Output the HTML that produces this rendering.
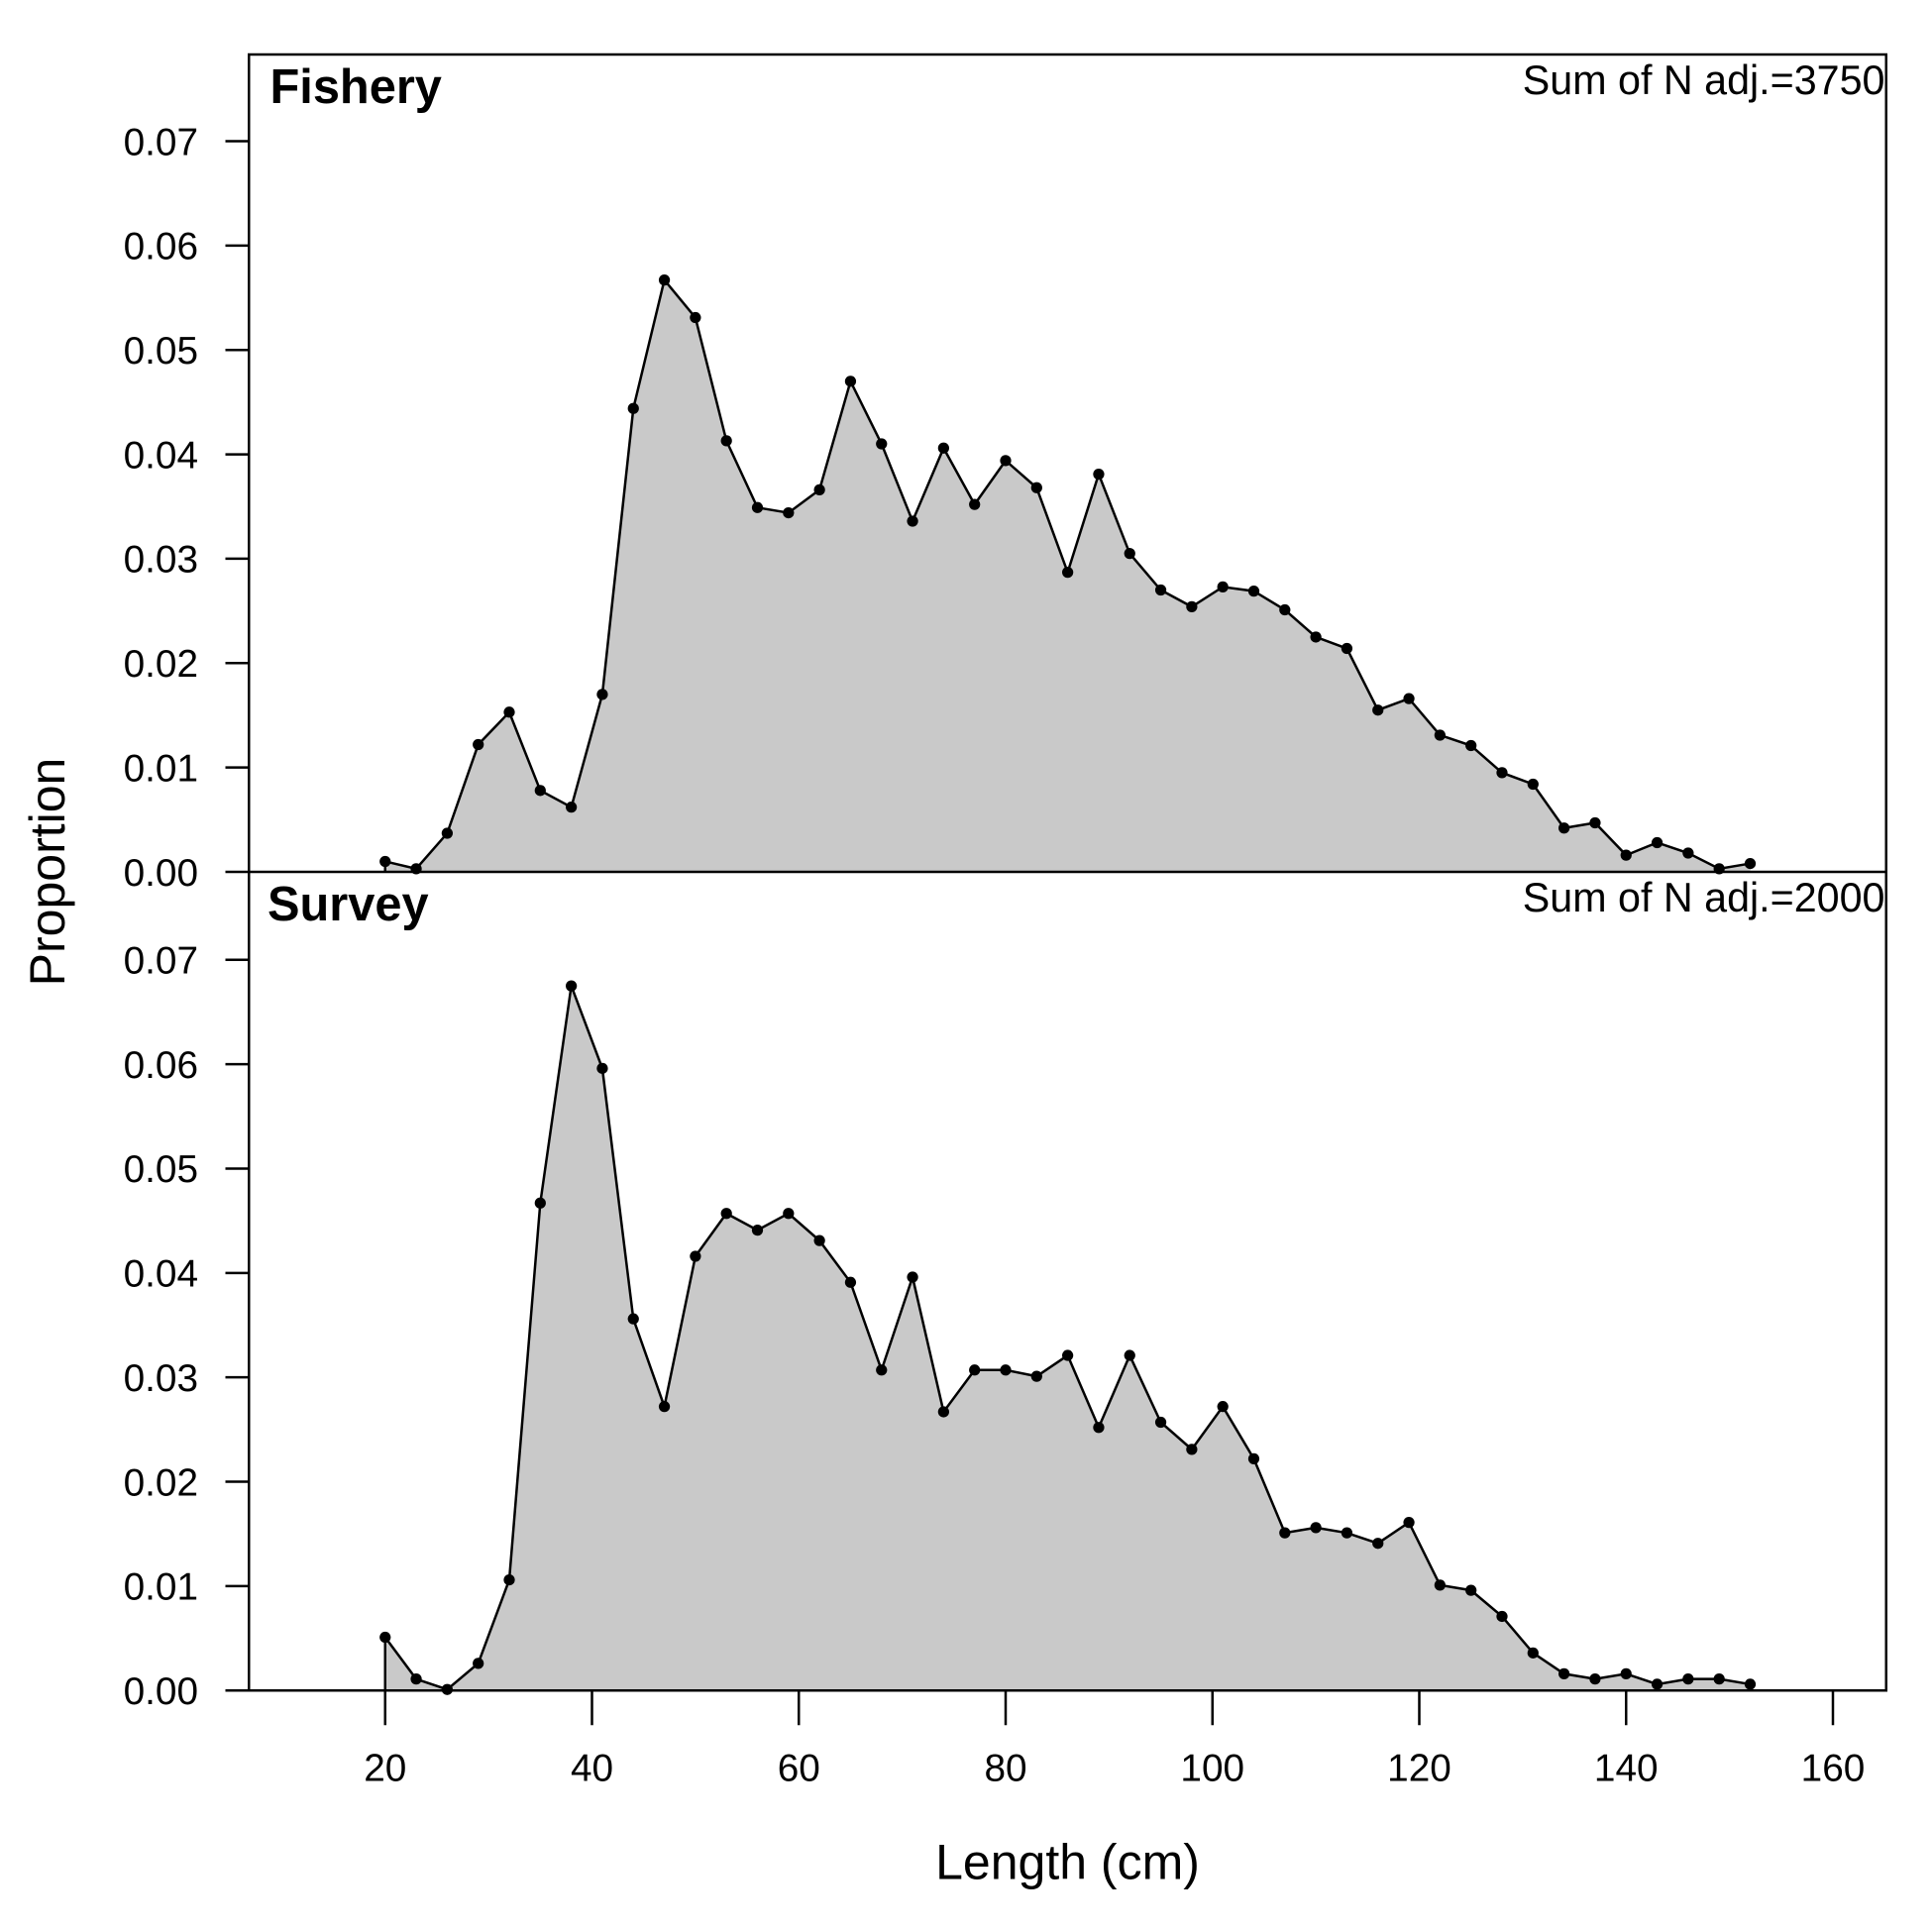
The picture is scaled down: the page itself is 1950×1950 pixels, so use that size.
<!DOCTYPE html>
<html><head><meta charset="utf-8"><style>html,body{margin:0;padding:0;background:#fff}svg{display:block}text{font-family:"Liberation Sans",Arial,sans-serif}</style></head>
<body>
<svg id="chart" width="1950" height="1950" viewBox="0 0 1560 1560" xmlns="http://www.w3.org/2000/svg"></svg>
<script>
const lengths = [20,23,26,29,32,35,38,41,44,47,50,53,56,59,62,65,68,71,74,77,80,83,86,89,92,95,98,101,104,107,110,113,116,119,122,125,128,131,134,137,140,143,146,149,152];
const fisheryValues = [0.001,0.0003,0.0037,0.0122,0.0153,0.0078,0.0062,0.017,0.0444,0.0567,0.0531,0.0413,0.0349,0.0344,0.0366,0.047,0.041,0.0336,0.0406,0.0352,0.0394,0.0368,0.0287,0.0381,0.0305,0.027,0.0254,0.0273,0.0269,0.0251,0.0225,0.0214,0.0155,0.0166,0.0131,0.0121,0.0095,0.0084,0.0042,0.0047,0.0016,0.0028,0.0018,0.0003,0.0008];
const surveyValues = [0.0051,0.0011,0.0001,0.0026,0.0106,0.0467,0.0675,0.0596,0.0356,0.0272,0.0416,0.0457,0.0441,0.0457,0.0431,0.0391,0.0307,0.0396,0.0267,0.0307,0.0307,0.0301,0.0321,0.0252,0.0321,0.0257,0.0231,0.0272,0.0222,0.0151,0.0156,0.0151,0.0141,0.0161,0.0101,0.0096,0.0071,0.0036,0.0016,0.0011,0.0016,0.0006,0.0011,0.0011,0.0006];
const xTicks = [20,40,60,80,100,120,140,160];
const yTicks = [0,0.01,0.02,0.03,0.04,0.05,0.06,0.07];
const panelTitles = ["Fishery","Survey"];
const sumLabels = ["Sum of N adj.=3750","Sum of N adj.=2000"];

const NS="http://www.w3.org/2000/svg";
const svg=document.getElementById('chart');
function el(tag,attrs,parent){const e=document.createElementNS(NS,tag);for(const k in attrs)e.setAttribute(k,attrs[k]);(parent||svg).appendChild(e);return e;}
const L=201,R=1523;
const xScale=v=>311+(v-20)*(1480-311)/140;
const panels=[{top:44,base:704,vals:fisheryValues},{top:704,base:1365,vals:surveyValues}];
const yPer=(704-114)/0.07;

panels.forEach((p,i)=>{
  const g=el('g',{});
  
  
  const y=v=>p.base-v*yPer;
  let d='M'+xScale(lengths[0])+','+p.base;
  lengths.forEach((x,j)=>{d+=' L'+xScale(x)+','+y(p.vals[j]);});
  d+=' L'+xScale(lengths[lengths.length-1])+','+p.base+' Z';
  const area=el('path',{d:d,fill:'#c9c9c9',stroke:'none'},g);
  
  
  const pts=lengths.map((x,j)=>xScale(x)+','+y(p.vals[j])).join(' ');
  const line=el('polyline',{points:pts,fill:'none',stroke:'#000','stroke-width':2},g);
  
  
  el('line',{x1:xScale(20),y1:p.base,x2:xScale(20),y2:y(p.vals[0]),stroke:'#000','stroke-width':2},g);
  lengths.forEach((x,j)=>{
    const c=el('circle',{cx:xScale(x),cy:y(p.vals[j]),r:4.5,fill:'#000'},g);
    
    
  });
  yTicks.forEach(t=>{
    el('line',{x1:L-19,x2:L,y1:y(t),y2:y(t),stroke:'#000','stroke-width':2},g);
    const tx=el('text',{x:160,y:y(t)+11,'font-size':31,'text-anchor':'end'},g);
    tx.textContent=t.toFixed(2);
    
    
  });
  el('line',{x1:L,x2:L,y1:y(0),y2:y(0.07),stroke:'#000','stroke-width':2},g);
  const tt=el('text',{x:i===0?218:216,y:p.top+39,'font-size':39,'font-weight':'bold'},g);
  tt.textContent=panelTitles[i];
  
  
  const st=el('text',{x:R-1,y:p.top+32,'font-size':33,'text-anchor':'end'},g);
  st.textContent=sumLabels[i];
  
  
});
const frame=el('rect',{x:L,y:44,width:R-L,height:1365-44,fill:'none',stroke:'#000','stroke-width':2});


el('line',{x1:L,x2:R,y1:704,y2:704,stroke:'#000','stroke-width':2});
el('line',{x1:182,x2:xScale(xTicks[xTicks.length-1]),y1:1365,y2:1365,stroke:'#000','stroke-width':2});
xTicks.forEach(t=>{
  el('line',{x1:xScale(t),x2:xScale(t),y1:1365,y2:1393,stroke:'#000','stroke-width':2});
  const tx=el('text',{x:xScale(t),y:1438,'font-size':31,'text-anchor':'middle'});
  tx.textContent=t;
  
  
});
const xl=el('text',{x:862,y:1517,'font-size':40,'text-anchor':'middle'});
xl.textContent='Length (cm)';


const yl=el('text',{x:0,y:0,'font-size':40,'text-anchor':'middle',transform:'translate(52,704) rotate(-90)'});
yl.textContent='Proportion';


</script>
</body></html>
